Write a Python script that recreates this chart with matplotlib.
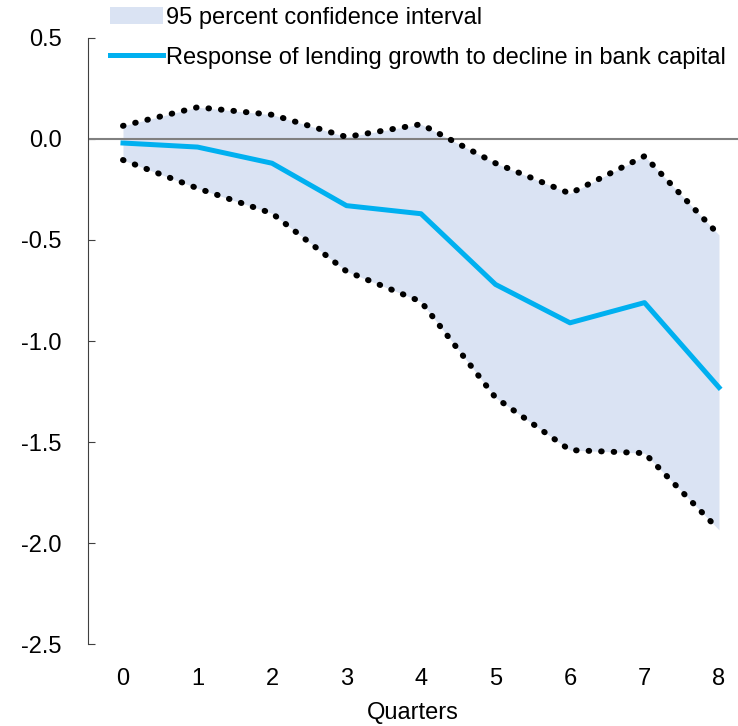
import matplotlib.pyplot as plt

plt.rcParams['font.family'] = ['Liberation Sans', 'DejaVu Sans']
plt.rcParams['font.size'] = 17

# Impulse response of lending growth and its 95% band
quarters = [0, 1, 2, 3, 4, 5, 6, 7, 8]
response = [-0.02, -0.04, -0.12, -0.33, -0.37, -0.72, -0.91, -0.81, -1.23]
upper = [0.065, 0.157, 0.12, 0.01, 0.073, -0.12, -0.27, -0.085, -0.475]
lower = [-0.104, -0.244, -0.368, -0.655, -0.805, -1.28, -1.54, -1.555, -1.935]
yticks = [0.5, 0.0, -0.5, -1.0, -1.5, -2.0, -2.5]

fig = plt.figure(figsize=(7.38, 7.26), dpi=100)
ax = fig.add_axes([0.1192, 0.1129, 0.8808, 0.8348])

band = ax.fill_between(quarters, lower, upper, color='#DAE3F3', linewidth=0,
                       label='95 percent confidence interval')
ax.axhline(0, color='#808080', linewidth=1.5, zorder=2)
ax.plot(quarters, upper, color='black', linestyle=(0, (0.1, 2.0)),
        linewidth=4.3, dash_capstyle='round', zorder=3)
ax.plot(quarters, lower, color='black', linestyle=(0, (0.1, 2.0)),
        linewidth=4.3, dash_capstyle='round', zorder=3)
line, = ax.plot(quarters, response, color='#00B0F0', linewidth=3.6, zorder=4,
                label='Response of lending growth to decline in bank capital')

ax.set_xlim(-0.47, 8.255)
ax.set_ylim(-2.5, 0.5)
ax.set_xticks(quarters)
ax.set_yticks(yticks)
ax.set_yticklabels(['{:.1f}'.format(v) for v in yticks])
ax.tick_params(axis='x', length=0, pad=17)
ax.tick_params(axis='y', direction='in', length=5, pad=19, color='#404040')
for side in ['top', 'right', 'bottom']:
    ax.spines[side].set_visible(False)
ax.spines['left'].set_color('#404040')
ax.set_xlabel('Quarters', labelpad=9)

fig.legend(handles=[band, line], loc='upper left', bbox_to_anchor=(0.149, 0.991),
           frameon=False, handlelength=2.25, handletextpad=0.13, labelspacing=0.77,
           borderaxespad=0, borderpad=0)

fig.savefig('out.png', dpi=100)
